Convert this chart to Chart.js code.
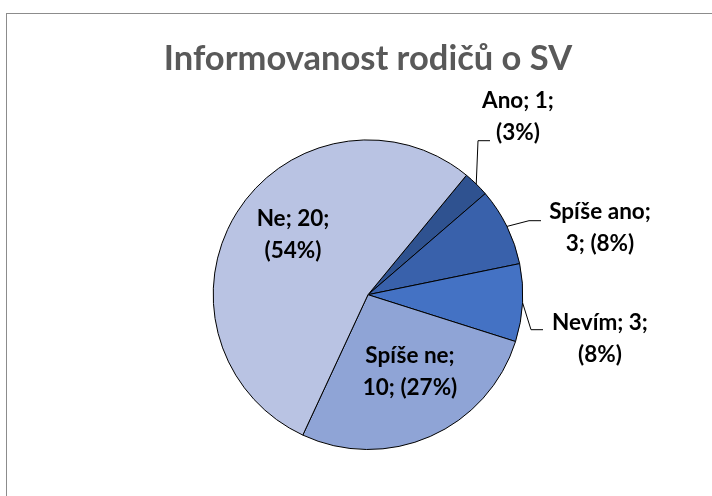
<!DOCTYPE html>
<html>
<head>
<meta charset="utf-8">
<script src="https://cdn.jsdelivr.net/npm/chart.js@4"></script>
<style>
  html, body { margin: 0; padding: 0; background: #fff; }
  #wrap { width: 712px; height: 496px; }
</style>
</head>
<body>
<div id="wrap"><canvas id="canvas1" width="712" height="496"></canvas></div>
<script>
"use strict";

// data
let categories = ["Ano", "Spíše ano", "Nevím", "Spíše ne", "Ne"];
let counts = [1, 3, 3, 10, 20];
let colors = ["#2F5290", "#3961AB", "#4472C4", "#8FA4D6", "#B9C3E3"];

// label layout (offset of text centre from pie centre, tokens on line 1, leader end offset)
let labelPos = [[150, -178], [232, -67], [232, 44], [42, 77], [-75, -60]];
let firstLine = [2, 1, 2, 1, 2];
let leaderEnd = [[-28, 24], [-59, -7], [-57, -9], null, null];

let total = counts.reduce((a, b) => a + b, 0);

// frame
let framePlugin = {
    id: "frame",
    beforeDraw(chart) {
        let ctx = chart.ctx;
        ctx.save();
        ctx.fillStyle = "#fff";
        ctx.fillRect(0, 0, chart.width, chart.height);
        ctx.strokeStyle = "#8c8c8c";
        ctx.lineWidth = 1;
        ctx.strokeRect(6.5, 13.5, chart.width + 20, chart.height + 20);
        ctx.restore();
    }
};

// data labels with leader lines
let labelPlugin = {
    id: "pieLabels",
    afterDatasetsDraw(chart) {
        let ctx = chart.ctx;
        let meta = chart.getDatasetMeta(0);
        ctx.save();
        ctx.font = "bold 22.5px Lato";
        ctx.fillStyle = "#000";
        ctx.textAlign = "center";
        ctx.textBaseline = "middle";
        meta.data.forEach((arc, i) => {
            let p = arc.getProps(["x", "y", "startAngle", "endAngle", "outerRadius"], true);
            let cx = p.x + labelPos[i][0];
            let cy = p.y + labelPos[i][1];
            let pct = Math.round(counts[i] / total * 100);
            let parts = [categories[i] + ";", counts[i] + ";", "(" + pct + "%)"];
            let l1 = parts.slice(0, firstLine[i]).join(" ");
            let l2 = parts.slice(firstLine[i]).join(" ");
            ctx.fillText(l1, cx, cy - 16);
            ctx.fillText(l2, cx, cy + 16);

            if (leaderEnd[i]) {
                let mid = (p.startAngle + p.endAngle) / 2;
                let sx = p.x + Math.cos(mid) * p.outerRadius;
                let sy = p.y + Math.sin(mid) * p.outerRadius;
                let ex = cx + leaderEnd[i][0];
                let ey = cy + leaderEnd[i][1];
                ctx.beginPath();
                ctx.strokeStyle = "#000";
                ctx.lineWidth = 1;
                ctx.moveTo(sx, sy);
                ctx.lineTo(ex - 12, ey);
                ctx.lineTo(ex, ey);
                ctx.stroke();
            }
        });
        ctx.restore();
    }
};

let opts = {
    type: "pie",
    data: {
        labels: categories,
        datasets: [{
            data: counts,
            backgroundColor: colors,
            borderColor: "#000",
            borderWidth: 1,
        }],
    },
    options: {
        responsive: false,
        animation: false,
        rotation: 39.5,
        layout: { padding: { left: 58, right: 34, top: 0, bottom: 46 } },
        plugins: {
            legend: { display: false },
            tooltip: { enabled: false },
            title: {
                display: true,
                text: "Informovanost rodičů o SV",
                color: "#595959",
                font: { family: "Lato", size: 34.5, weight: "bold" },
                padding: { top: 38, bottom: 60 },
            },
        },
    },
    plugins: [framePlugin, labelPlugin],
};

let chart1 = new Chart(document.querySelector("#canvas1"), opts);
</script>
</body>
</html>
